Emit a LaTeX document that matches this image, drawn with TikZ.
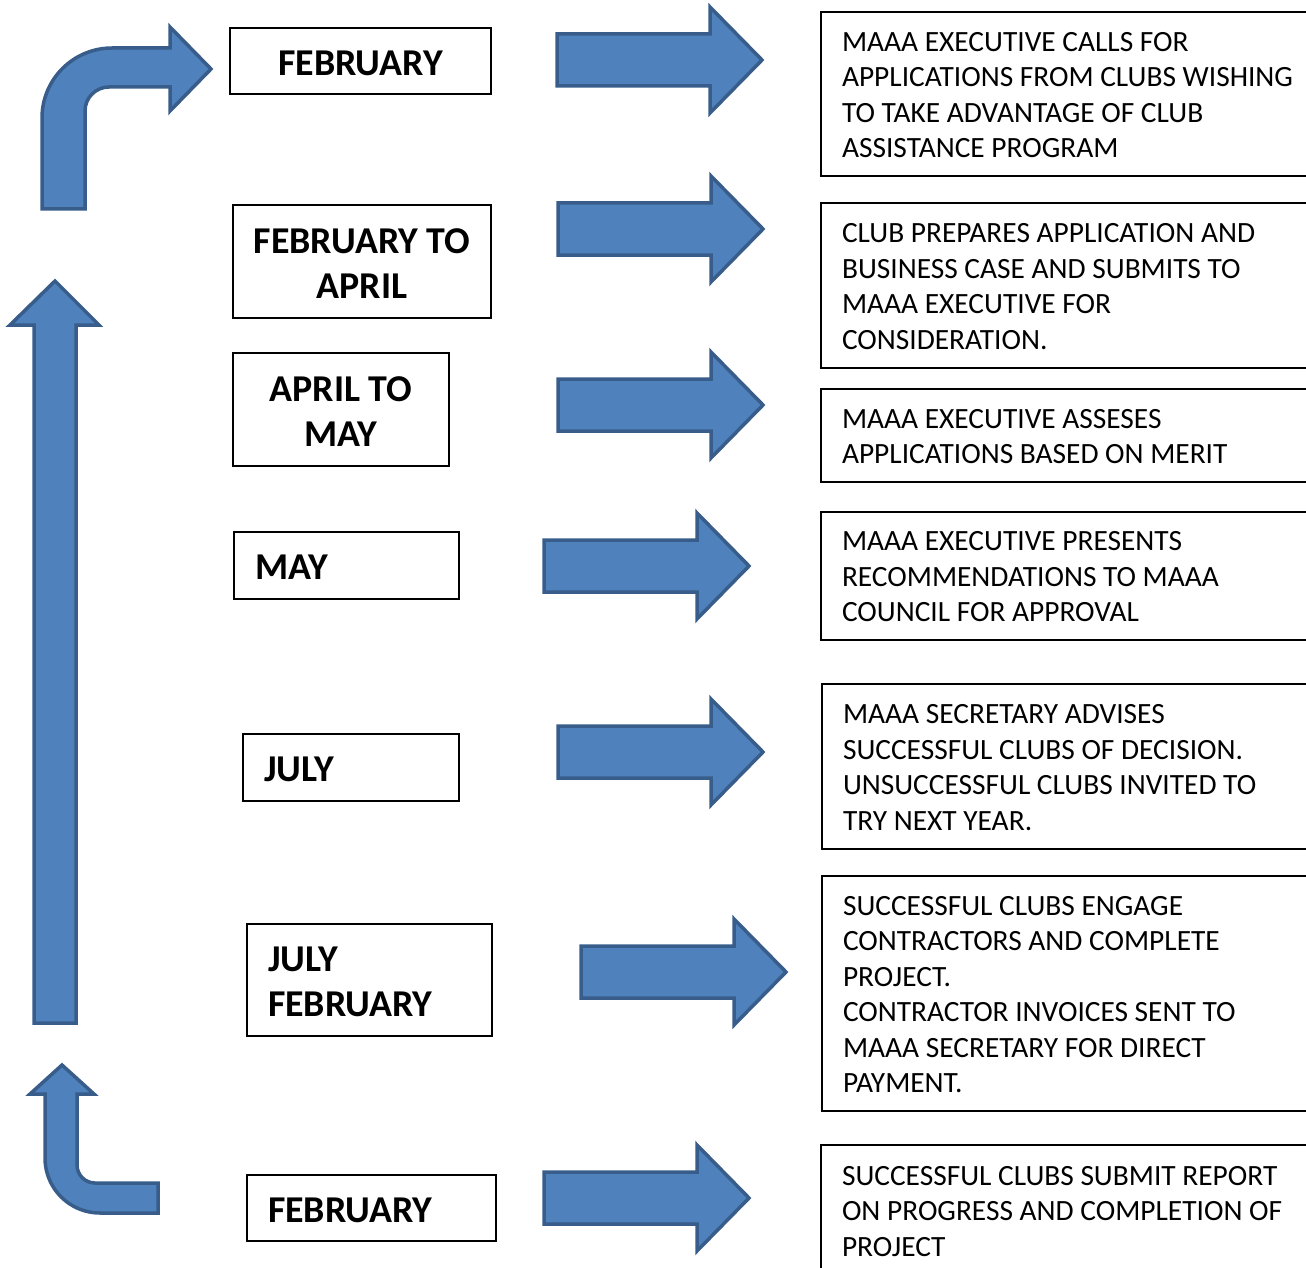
\documentclass[tikz,border=0pt]{standalone}
\usepackage{fontspec}
\setmainfont{Carlito}
\definecolor{arrowfill}{HTML}{4F81BD}
\definecolor{arrowline}{HTML}{385D8A}
\tikzset{
  blockarr/.style={fill=arrowfill, draw=arrowline, line width=3.5pt, line join=miter},
  lbl/.style={draw=black, line width=2pt, font=\fontsize{37.9}{45}\selectfont\bfseries, inner sep=0pt, align=flush center, text height=28.4pt},
  lbll/.style={draw=black, line width=2pt, font=\fontsize{37.9}{45}\selectfont\bfseries, inner ysep=0pt, inner xsep=21pt, align=flush left, anchor=west, text height=28.4pt},
  desc/.style={draw=black, line width=2pt, font=\fontsize{29.4}{35.5}\selectfont, align=flush left, anchor=west, text width=480pt, inner xsep=21pt, inner ysep=0pt, text height=20.9pt},
  pics/rarrow/.style={code={
    \draw[blockarr] (2,-26) -- (155,-26) -- (155,-53) -- (207,0) -- (155,53) -- (155,26) -- (2,26) -- cycle;
  }}
}
\begin{document}
\begin{tikzpicture}[x=1pt,y=-1pt]
\useasboundingbox (0,0) rectangle (1306,1268);

% left labels
\node[lbl, text width=261pt, minimum height=66pt] (l1) at (360.5,61) {FEBRUARY};
\node[lbl, text width=258pt, minimum height=113pt] (l2) at (362,261.5) {FEBRUARY TO\\APRIL};
\node[lbl, text width=216pt, minimum height=113pt] (l3) at (341,409.5) {APRIL TO\\MAY};
\node[lbll, text width=183pt, minimum height=67pt] (l4) at (233,565.5) {MAY};
\node[lbll, text width=174pt, minimum height=67pt] (l5) at (242,767.5) {JULY};
\node[lbll, text width=203pt, minimum height=112pt] (l6) at (246,980) {JULY\\FEBRUARY};
\node[lbll, text width=207pt, minimum height=66pt] (l7) at (246,1208) {FEBRUARY};

% right descriptions
\node[desc, minimum height=164pt] (r1) at (820,94) {MAAA EXECUTIVE CALLS FOR\\APPLICATIONS FROM CLUBS WISHING\\TO TAKE ADVANTAGE OF CLUB\\ASSISTANCE PROGRAM};
\node[desc, minimum height=165pt] (r2) at (820,285.5) {CLUB PREPARES APPLICATION AND\\BUSINESS CASE AND SUBMITS TO\\MAAA EXECUTIVE FOR\\CONSIDERATION.};
\node[desc, minimum height=93pt] (r3) at (820,435.5) {MAAA EXECUTIVE ASSESES\\APPLICATIONS BASED ON MERIT};
\node[desc, minimum height=128pt] (r4) at (820,576) {MAAA EXECUTIVE PRESENTS\\RECOMMENDATIONS TO MAAA\\COUNCIL FOR APPROVAL};
\node[desc, minimum height=165pt] (r5) at (821,766.5) {MAAA SECRETARY ADVISES\\SUCCESSFUL CLUBS OF DECISION.\\UNSUCCESSFUL CLUBS INVITED TO\\TRY NEXT YEAR.};
\node[desc, minimum height=235pt] (r6) at (821,993.5) {SUCCESSFUL CLUBS ENGAGE\\CONTRACTORS AND COMPLETE\\PROJECT.\\CONTRACTOR INVOICES SENT TO\\MAAA SECRETARY FOR DIRECT\\PAYMENT.};
\node[desc, minimum height=131pt] (r7) at (820,1210.5) {SUCCESSFUL CLUBS SUBMIT REPORT\\ON PROGRESS AND COMPLETION OF\\PROJECT};

% block arrows between labels and descriptions
\pic (a1) at (555,60) {rarrow};
\pic (a2) at (556,229) {rarrow};
\pic (a3) at (556,405) {rarrow};
\pic (a4) at (542,566) {rarrow};
\pic (a5) at (556,752) {rarrow};
\pic (a6) at (579,972) {rarrow};
\pic (a7) at (542,1198) {rarrow};

% long upward arrow
\draw[blockarr] (34,1023) -- (34,325) -- (10,325) -- (55,281) -- (99,325) -- (76,325) -- (76,1023) -- cycle;

% top bent arrow
\draw[blockarr] (42,209) -- (42,118) .. controls (42,79.3) and (73.3,48) .. (112,48)
  -- (170,48) -- (170,27) -- (211,69) -- (170,111) -- (170,87) -- (109,87)
  .. controls (95.75,87) and (85,97.75) .. (85,111) -- (85,209) -- cycle;

% bottom bent arrow
\draw[blockarr] (62,1065) -- (94,1094) -- (77,1094) -- (77,1165)
  .. controls (77,1174.9) and (85.1,1183) .. (95,1183) -- (158,1183) -- (158,1213) -- (100,1213)
  .. controls (69.6,1213) and (45,1188.4) .. (45,1158) -- (45,1094) -- (30,1094) -- cycle;
\end{tikzpicture}
\end{document}
